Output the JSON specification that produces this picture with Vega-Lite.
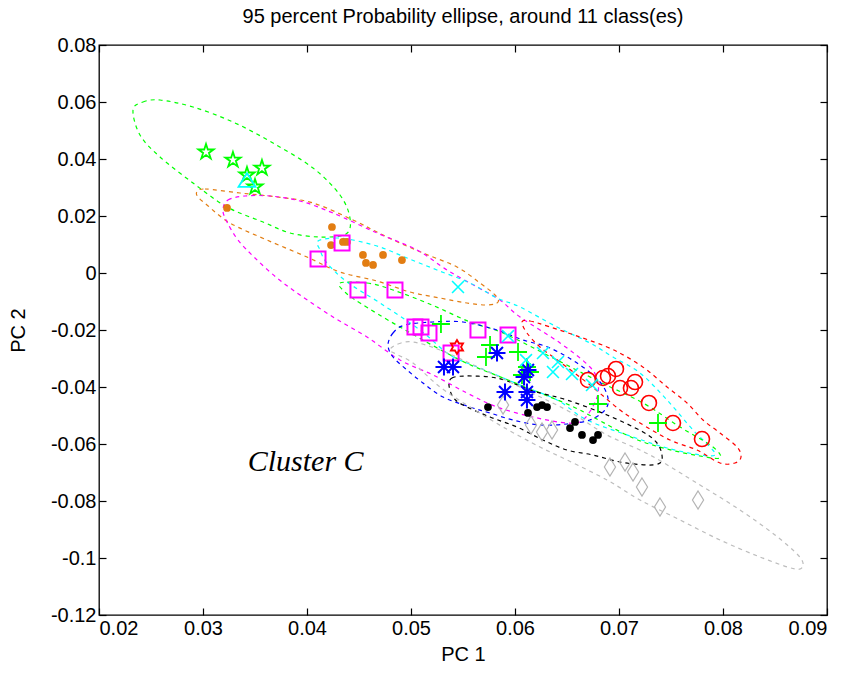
{
  "$schema": "https://vega.github.io/schema/vega-lite/v6.json",
  "width": 728,
  "height": 570,
  "autosize": {"type": "none"},
  "padding": {"left": 99, "top": 45, "right": 23, "bottom": 61},
  "title": {"text": "95 percent Probability ellipse, around 11 class(es)", "font": "Liberation Sans", "fontSize": 20, "fontWeight": "normal", "color": "black", "offset": 8},
  "datasets": {
    "ell": [
      {"e":"g1","i":0,"x":0.02327,"y":0.05719},{"e":"g1","i":1,"x":0.02423,"y":0.06},{"e":"g1","i":2,"x":0.02587,"y":0.0607},{"e":"g1","i":3,"x":0.02904,"y":0.05825},{"e":"g1","i":4,"x":0.03288,"y":0.05298},{"e":"g1","i":5,"x":0.03673,"y":0.04561},{"e":"g1","i":6,"x":0.04058,"y":0.03684},{"e":"g1","i":7,"x":0.04317,"y":0.02737},{"e":"g1","i":8,"x":0.04413,"y":0.0193},{"e":"g1","i":9,"x":0.04375,"y":0.01368},{"e":"g1","i":10,"x":0.04125,"y":0.01263},{"e":"g1","i":11,"x":0.03837,"y":0.01404},{"e":"g1","i":12,"x":0.03577,"y":0.01789},{"e":"g1","i":13,"x":0.03231,"y":0.02316},{"e":"g1","i":14,"x":0.02904,"y":0.03158},{"e":"g1","i":15,"x":0.02587,"y":0.0407},{"e":"g1","i":16,"x":0.02394,"y":0.04842},
      {"e":"or","i":0,"x":0.02942,"y":0.02842},{"e":"or","i":1,"x":0.03019,"y":0.02947},{"e":"or","i":2,"x":0.03356,"y":0.02807},{"e":"or","i":3,"x":0.03712,"y":0.02667},{"e":"or","i":4,"x":0.04058,"y":0.02456},{"e":"or","i":5,"x":0.04442,"y":0.0186},{"e":"or","i":6,"x":0.04769,"y":0.01263},{"e":"or","i":7,"x":0.05115,"y":0.00702},{"e":"or","i":8,"x":0.05442,"y":0.00211},{"e":"or","i":9,"x":0.05663,"y":-0.00351},{"e":"or","i":10,"x":0.05808,"y":-0.00772},{"e":"or","i":11,"x":0.05837,"y":-0.01018},{"e":"or","i":12,"x":0.0574,"y":-0.01123},{"e":"or","i":13,"x":0.05538,"y":-0.01053},{"e":"or","i":14,"x":0.05279,"y":-0.00877},{"e":"or","i":15,"x":0.0499,"y":-0.00667},{"e":"or","i":16,"x":0.04673,"y":-0.00281},{"e":"or","i":17,"x":0.04317,"y":0.00035},{"e":"or","i":18,"x":0.04,"y":0.00561},{"e":"or","i":19,"x":0.03615,"y":0.01158},{"e":"or","i":20,"x":0.0326,"y":0.01754},{"e":"or","i":21,"x":0.03038,"y":0.02386},{"e":"or","i":22,"x":0.02952,"y":0.02667},
      {"e":"mg","i":0,"x":0.03192,"y":0.02211},{"e":"mg","i":1,"x":0.0324,"y":0.02561},{"e":"mg","i":2,"x":0.03404,"y":0.02702},{"e":"mg","i":3,"x":0.03644,"y":0.02702},{"e":"mg","i":4,"x":0.03933,"y":0.02526},{"e":"mg","i":5,"x":0.0425,"y":0.02105},{"e":"mg","i":6,"x":0.04673,"y":0.01404},{"e":"mg","i":7,"x":0.05058,"y":0.00807},{"e":"mg","i":8,"x":0.05346,"y":0.00105},{"e":"mg","i":9,"x":0.05635,"y":-0.00491},{"e":"mg","i":10,"x":0.05856,"y":-0.00947},{"e":"mg","i":11,"x":0.06048,"y":-0.01544},{"e":"mg","i":12,"x":0.06433,"y":-0.02456},{"e":"mg","i":13,"x":0.06721,"y":-0.03298},{"e":"mg","i":14,"x":0.06798,"y":-0.0386},{"e":"mg","i":15,"x":0.06779,"y":-0.04456},{"e":"mg","i":16,"x":0.06654,"y":-0.05158},{"e":"mg","i":17,"x":0.065,"y":-0.05263},{"e":"mg","i":18,"x":0.06173,"y":-0.05053},{"e":"mg","i":19,"x":0.05827,"y":-0.04702},{"e":"mg","i":20,"x":0.05538,"y":-0.04211},{"e":"mg","i":21,"x":0.05212,"y":-0.03579},{"e":"mg","i":22,"x":0.04894,"y":-0.03053},{"e":"mg","i":23,"x":0.04577,"y":-0.02246},{"e":"mg","i":24,"x":0.0425,"y":-0.01544},{"e":"mg","i":25,"x":0.03933,"y":-0.00772},{"e":"mg","i":26,"x":0.03712,"y":-0.00175},{"e":"mg","i":27,"x":0.035,"y":0.00526},{"e":"mg","i":28,"x":0.03337,"y":0.01158},{"e":"mg","i":29,"x":0.03231,"y":0.01789},
      {"e":"cy","i":0,"x":0.04106,"y":0.01123},{"e":"cy","i":1,"x":0.04269,"y":0.01228},{"e":"cy","i":2,"x":0.04442,"y":0.01158},{"e":"cy","i":3,"x":0.04702,"y":0.00912},{"e":"cy","i":4,"x":0.04962,"y":0.00526},{"e":"cy","i":5,"x":0.0525,"y":0.00105},{"e":"cy","i":6,"x":0.05567,"y":-0.00351},{"e":"cy","i":7,"x":0.05827,"y":-0.00877},{"e":"cy","i":8,"x":0.06048,"y":-0.01193},{"e":"cy","i":9,"x":0.06404,"y":-0.01895},{"e":"cy","i":10,"x":0.06721,"y":-0.02456},{"e":"cy","i":11,"x":0.06942,"y":-0.02947},{"e":"cy","i":12,"x":0.07202,"y":-0.03509},{"e":"cy","i":13,"x":0.07462,"y":-0.04456},{"e":"cy","i":14,"x":0.07712,"y":-0.05509},{"e":"cy","i":15,"x":0.07875,"y":-0.06105},{"e":"cy","i":16,"x":0.07923,"y":-0.06386},{"e":"cy","i":17,"x":0.07779,"y":-0.06386},{"e":"cy","i":18,"x":0.07462,"y":-0.0614},{"e":"cy","i":19,"x":0.07135,"y":-0.05754},{"e":"cy","i":20,"x":0.06692,"y":-0.05158},{"e":"cy","i":21,"x":0.06404,"y":-0.04456},{"e":"cy","i":22,"x":0.06048,"y":-0.0393},{"e":"cy","i":23,"x":0.05663,"y":-0.03333},{"e":"cy","i":24,"x":0.05375,"y":-0.02877},{"e":"cy","i":25,"x":0.05087,"y":-0.02},{"e":"cy","i":26,"x":0.04702,"y":-0.01053},{"e":"cy","i":27,"x":0.04385,"y":-0.00316},{"e":"cy","i":28,"x":0.04192,"y":0.00351},{"e":"cy","i":29,"x":0.04125,"y":0.00807},
      {"e":"g2","i":0,"x":0.04317,"y":-0.00351},{"e":"g2","i":1,"x":0.04577,"y":-0.00351},{"e":"g2","i":2,"x":0.04827,"y":-0.00596},{"e":"g2","i":3,"x":0.05202,"y":-0.01123},{"e":"g2","i":4,"x":0.05567,"y":-0.01719},{"e":"g2","i":5,"x":0.05885,"y":-0.02105},{"e":"g2","i":6,"x":0.06365,"y":-0.02982},{"e":"g2","i":7,"x":0.06817,"y":-0.03825},{"e":"g2","i":8,"x":0.07231,"y":-0.04561},{"e":"g2","i":9,"x":0.07587,"y":-0.05404},{"e":"g2","i":10,"x":0.07904,"y":-0.06105},{"e":"g2","i":11,"x":0.07971,"y":-0.06491},{"e":"g2","i":12,"x":0.07779,"y":-0.06421},{"e":"g2","i":13,"x":0.07462,"y":-0.06175},{"e":"g2","i":14,"x":0.07135,"y":-0.05789},{"e":"g2","i":15,"x":0.0675,"y":-0.05053},{"e":"g2","i":16,"x":0.065,"y":-0.04596},{"e":"g2","i":17,"x":0.05885,"y":-0.03684},{"e":"g2","i":18,"x":0.05471,"y":-0.03053},{"e":"g2","i":19,"x":0.04894,"y":-0.01895},{"e":"g2","i":20,"x":0.0451,"y":-0.01053},{"e":"g2","i":21,"x":0.04365,"y":-0.00667},
      {"e":"bl","i":0,"x":0.04779,"y":-0.02526},{"e":"bl","i":1,"x":0.04827,"y":-0.02105},{"e":"bl","i":2,"x":0.04942,"y":-0.01825},{"e":"bl","i":3,"x":0.05212,"y":-0.01719},{"e":"bl","i":4,"x":0.055,"y":-0.01719},{"e":"bl","i":5,"x":0.05827,"y":-0.02},{"e":"bl","i":6,"x":0.06077,"y":-0.02351},{"e":"bl","i":7,"x":0.06337,"y":-0.02632},{"e":"bl","i":8,"x":0.06625,"y":-0.03228},{"e":"bl","i":9,"x":0.06817,"y":-0.03825},{"e":"bl","i":10,"x":0.06894,"y":-0.04386},{"e":"bl","i":11,"x":0.06865,"y":-0.04807},{"e":"bl","i":12,"x":0.06721,"y":-0.05158},{"e":"bl","i":13,"x":0.065,"y":-0.05298},{"e":"bl","i":14,"x":0.0624,"y":-0.05333},{"e":"bl","i":15,"x":0.05981,"y":-0.05158},{"e":"bl","i":16,"x":0.0576,"y":-0.04912},{"e":"bl","i":17,"x":0.05567,"y":-0.04702},{"e":"bl","i":18,"x":0.05308,"y":-0.04351},{"e":"bl","i":19,"x":0.05115,"y":-0.0386},{"e":"bl","i":20,"x":0.04962,"y":-0.03404},{"e":"bl","i":21,"x":0.04827,"y":-0.02947},
      {"e":"rd","i":0,"x":0.06067,"y":-0.01719},{"e":"rd","i":1,"x":0.06144,"y":-0.01684},{"e":"rd","i":2,"x":0.06337,"y":-0.01895},{"e":"rd","i":3,"x":0.06625,"y":-0.02246},{"e":"rd","i":4,"x":0.06885,"y":-0.02596},{"e":"rd","i":5,"x":0.07077,"y":-0.02947},{"e":"rd","i":6,"x":0.07269,"y":-0.03404},{"e":"rd","i":7,"x":0.07462,"y":-0.04},{"e":"rd","i":8,"x":0.07654,"y":-0.04561},{"e":"rd","i":9,"x":0.07808,"y":-0.05158},{"e":"rd","i":10,"x":0.07971,"y":-0.05614},{"e":"rd","i":11,"x":0.08135,"y":-0.06105},{"e":"rd","i":12,"x":0.08173,"y":-0.06456},{"e":"rd","i":13,"x":0.08115,"y":-0.06667},{"e":"rd","i":14,"x":0.07971,"y":-0.06667},{"e":"rd","i":15,"x":0.0775,"y":-0.06211},{"e":"rd","i":16,"x":0.0749,"y":-0.0586},{"e":"rd","i":17,"x":0.07202,"y":-0.05263},{"e":"rd","i":18,"x":0.0701,"y":-0.04807},{"e":"rd","i":19,"x":0.06721,"y":-0.0393},{"e":"rd","i":20,"x":0.06433,"y":-0.03123},{"e":"rd","i":21,"x":0.0624,"y":-0.02596},{"e":"rd","i":22,"x":0.06115,"y":-0.02105},
      {"e":"bk","i":0,"x":0.05365,"y":-0.0393},{"e":"bk","i":1,"x":0.05394,"y":-0.03684},{"e":"bk","i":2,"x":0.05519,"y":-0.03614},{"e":"bk","i":3,"x":0.0576,"y":-0.03649},{"e":"bk","i":4,"x":0.05923,"y":-0.03789},{"e":"bk","i":5,"x":0.06173,"y":-0.0414},{"e":"bk","i":6,"x":0.065,"y":-0.04456},{"e":"bk","i":7,"x":0.06885,"y":-0.04982},{"e":"bk","i":8,"x":0.07231,"y":-0.05579},{"e":"bk","i":9,"x":0.07365,"y":-0.05965},{"e":"bk","i":10,"x":0.07413,"y":-0.06386},{"e":"bk","i":11,"x":0.07394,"y":-0.06667},{"e":"bk","i":12,"x":0.07269,"y":-0.06737},{"e":"bk","i":13,"x":0.0701,"y":-0.06632},{"e":"bk","i":14,"x":0.0675,"y":-0.06386},{"e":"bk","i":15,"x":0.065,"y":-0.06211},{"e":"bk","i":16,"x":0.06269,"y":-0.0586},{"e":"bk","i":17,"x":0.06019,"y":-0.05404},{"e":"bk","i":18,"x":0.0576,"y":-0.05053},{"e":"bk","i":19,"x":0.055,"y":-0.04632},{"e":"bk","i":20,"x":0.05404,"y":-0.04351},
      {"e":"gy","i":0,"x":0.04798,"y":-0.02702},{"e":"gy","i":1,"x":0.04875,"y":-0.02491},{"e":"gy","i":2,"x":0.05019,"y":-0.02421},{"e":"gy","i":3,"x":0.05279,"y":-0.02702},{"e":"gy","i":4,"x":0.05663,"y":-0.03333},{"e":"gy","i":5,"x":0.06144,"y":-0.04175},{"e":"gy","i":6,"x":0.06529,"y":-0.04877},{"e":"gy","i":7,"x":0.06885,"y":-0.05684},{"e":"gy","i":8,"x":0.07298,"y":-0.06386},{"e":"gy","i":9,"x":0.07779,"y":-0.07439},{"e":"gy","i":10,"x":0.08163,"y":-0.08316},{"e":"gy","i":11,"x":0.085,"y":-0.09193},{"e":"gy","i":12,"x":0.08721,"y":-0.09895},{"e":"gy","i":13,"x":0.08769,"y":-0.10246},{"e":"gy","i":14,"x":0.08692,"y":-0.10386},{"e":"gy","i":15,"x":0.08356,"y":-0.09965},{"e":"gy","i":16,"x":0.07971,"y":-0.09368},{"e":"gy","i":17,"x":0.07587,"y":-0.08667},{"e":"gy","i":18,"x":0.07202,"y":-0.07965},{"e":"gy","i":19,"x":0.06885,"y":-0.07263},{"e":"gy","i":20,"x":0.065,"y":-0.06561},{"e":"gy","i":21,"x":0.0624,"y":-0.06105},{"e":"gy","i":22,"x":0.05885,"y":-0.05404},{"e":"gy","i":23,"x":0.05567,"y":-0.04702},{"e":"gy","i":24,"x":0.05279,"y":-0.04},{"e":"gy","i":25,"x":0.05019,"y":-0.03158},{"e":"gy","i":26,"x":0.04875,"y":-0.02877}
    ],
    "pts": [
      {"c":"star","x":0.03029,"y":0.04246},{"c":"star","x":0.03288,"y":0.03965},{"c":"star","x":0.03423,"y":0.03439},{"c":"star","x":0.03567,"y":0.03684},{"c":"star","x":0.035,"y":0.03018},
      {"c":"tri","x":0.03423,"y":0.03263},
      {"c":"odot","x":0.03231,"y":0.02281},{"c":"odot","x":0.0424,"y":0.01614},{"c":"odot","x":0.04231,"y":0.00982},{"c":"odot","x":0.04346,"y":0.01088},{"c":"odot","x":0.04385,"y":0.01088},{"c":"odot","x":0.04538,"y":0.00632},{"c":"odot","x":0.04567,"y":0.00351},{"c":"odot","x":0.04635,"y":0.00281},{"c":"odot","x":0.04731,"y":0.00632},{"c":"odot","x":0.04913,"y":0.00456},
      {"c":"sq","x":0.04106,"y":0.00491},{"c":"sq","x":0.04337,"y":0.01053},{"c":"sq","x":0.0449,"y":-0.00596},{"c":"sq","x":0.04846,"y":-0.00596},{"c":"sq","x":0.05038,"y":-0.01895},{"c":"sq","x":0.05096,"y":-0.01895},{"c":"sq","x":0.05173,"y":-0.02105},{"c":"sq","x":0.05385,"y":-0.02807},{"c":"sq","x":0.05644,"y":-0.02},{"c":"sq","x":0.05933,"y":-0.02175},
      {"c":"circ","x":0.06702,"y":-0.03754},{"c":"circ","x":0.06846,"y":-0.03684},{"c":"circ","x":0.06894,"y":-0.03614},{"c":"circ","x":0.06971,"y":-0.03368},{"c":"circ","x":0.0701,"y":-0.04035},{"c":"circ","x":0.07115,"y":-0.04035},{"c":"circ","x":0.07154,"y":-0.03825},{"c":"circ","x":0.07288,"y":-0.04561},{"c":"circ","x":0.07519,"y":-0.05263},{"c":"circ","x":0.07798,"y":-0.05825},
      {"c":"plus","x":0.05288,"y":-0.01789},{"c":"plus","x":0.0576,"y":-0.02526},{"c":"plus","x":0.05721,"y":-0.02947},{"c":"plus","x":0.06029,"y":-0.02772},{"c":"plus","x":0.06115,"y":-0.03298},{"c":"plus","x":0.06067,"y":-0.03579},{"c":"plus","x":0.06144,"y":-0.03474},{"c":"plus","x":0.06798,"y":-0.04596},{"c":"plus","x":0.07375,"y":-0.05263},
      {"c":"ast","x":0.05317,"y":-0.03298},{"c":"ast","x":0.05404,"y":-0.03298},{"c":"ast","x":0.05827,"y":-0.02807},{"c":"ast","x":0.05904,"y":-0.04175},{"c":"ast","x":0.06087,"y":-0.03649},{"c":"ast","x":0.06125,"y":-0.03404},{"c":"ast","x":0.06115,"y":-0.04175},{"c":"ast","x":0.06115,"y":-0.04456},
      {"c":"kdot","x":0.0574,"y":-0.04702},{"c":"kdot","x":0.06125,"y":-0.04912},{"c":"kdot","x":0.06212,"y":-0.04702},{"c":"kdot","x":0.0626,"y":-0.04632},{"c":"kdot","x":0.06308,"y":-0.04702},{"c":"kdot","x":0.06577,"y":-0.05228},{"c":"kdot","x":0.06529,"y":-0.05439},{"c":"kdot","x":0.06644,"y":-0.05684},{"c":"kdot","x":0.0675,"y":-0.0586},{"c":"kdot","x":0.06798,"y":-0.05684},
      {"c":"dia","x":0.05885,"y":-0.04632},{"c":"dia","x":0.06154,"y":-0.05333},{"c":"dia","x":0.0626,"y":-0.05579},{"c":"dia","x":0.06356,"y":-0.05509},{"c":"dia","x":0.06913,"y":-0.06807},{"c":"dia","x":0.07058,"y":-0.06632},{"c":"dia","x":0.07135,"y":-0.06982},{"c":"dia","x":0.07221,"y":-0.07509},{"c":"dia","x":0.07394,"y":-0.08211},{"c":"dia","x":0.0776,"y":-0.07965},
      {"c":"hex","x":0.05442,"y":-0.02596},
      {"c":"xx","x":0.05452,"y":-0.00491},{"c":"xx","x":0.05933,"y":-0.02211},{"c":"xx","x":0.06106,"y":-0.03053},{"c":"xx","x":0.06269,"y":-0.02807},{"c":"xx","x":0.06413,"y":-0.03123},{"c":"xx","x":0.06365,"y":-0.03474},{"c":"xx","x":0.06548,"y":-0.03544},{"c":"xx","x":0.0674,"y":-0.0393}
    ]
  },
  "encoding": {
    "x": {"field": "x", "type": "quantitative", "scale": {"domain": [0.02, 0.09], "nice": false, "zero": false}, "axis": null},
    "y": {"field": "y", "type": "quantitative", "scale": {"domain": [-0.12, 0.08], "nice": false, "zero": false}, "axis": null}
  },
  "layer": [
    {
      "data": {"name": "ell"},
      "mark": {"type": "line", "interpolate": "cardinal-closed", "strokeDash": [4, 4], "strokeWidth": 1.2, "opacity": 1},
      "encoding": {
        "x": {"field": "x", "type": "quantitative", "axis": {"orient": "bottom", "values": [0.02, 0.03, 0.04, 0.05, 0.06, 0.07, 0.08, 0.09], "labelExpr": "toString(round(datum.value*100)/100)", "title": "PC 1", "tickSize": -7, "labelPadding": 10, "titlePadding": 6}},
        "y": {"field": "y", "type": "quantitative", "axis": {"orient": "left", "values": [-0.12, -0.1, -0.08, -0.06, -0.04, -0.02, 0, 0.02, 0.04, 0.06, 0.08], "labelExpr": "toString(round(datum.value*100)/100)", "title": "PC 2", "tickSize": -7, "labelPadding": 10, "titlePadding": 22}},
        "detail": {"field": "e"},
        "order": {"field": "i", "type": "quantitative"},
        "color": {"field": "e", "type": "nominal", "legend": null, "scale": {"domain": ["g1", "or", "mg", "cy", "g2", "bl", "rd", "bk", "gy"], "range": ["#00ff00", "#e27d12", "#ff00ff", "#00ffff", "#00ff00", "#0000ff", "#ff0000", "#000000", "#bdbdbd"]}}
      }
    },
    {
      "data": {"name": "pts"},
      "transform": [{"filter": "datum.c == 'dia'"}],
      "mark": {"type": "point", "filled": false, "shape": "M0,-1L0.62,0L0,1L-0.62,0Z", "size": 324, "color": "#b4b4b4", "strokeWidth": 1.2, "opacity": 1},
      "encoding": {
        "x": {"field": "x", "type": "quantitative", "axis": {"orient": "top", "values": [0.02, 0.03, 0.04, 0.05, 0.06, 0.07, 0.08, 0.09], "labels": false, "title": null, "tickSize": -7}},
        "y": {"field": "y", "type": "quantitative", "axis": {"orient": "right", "values": [-0.12, -0.1, -0.08, -0.06, -0.04, -0.02, 0, 0.02, 0.04, 0.06, 0.08], "labels": false, "title": null, "tickSize": -7}}
      }
    },
    {
      "data": {"name": "pts"},
      "transform": [{"filter": "datum.c == 'star'"}],
      "mark": {"type": "point", "filled": false, "shape": "M0,-1L0.2245,-0.309L0.951,-0.309L0.363,0.118L0.588,0.809L0,0.382L-0.588,0.809L-0.363,0.118L-0.951,-0.309L-0.2245,-0.309Z", "size": 256, "color": "#00ff00", "strokeWidth": 1.8, "opacity": 1}
    },
    {
      "data": {"name": "pts"},
      "transform": [{"filter": "datum.c == 'tri'"}],
      "mark": {"type": "point", "filled": false, "shape": "M0,-0.8L1,0.8L-1,0.8Z", "size": 289, "color": "#00ffff", "strokeWidth": 1.8, "opacity": 1}
    },
    {
      "data": {"name": "pts"},
      "transform": [{"filter": "datum.c == 'odot'"}],
      "mark": {"type": "point", "filled": true, "shape": "circle", "size": 60, "color": "#e27d12", "opacity": 1}
    },
    {
      "data": {"name": "pts"},
      "transform": [{"filter": "datum.c == 'kdot'"}],
      "mark": {"type": "point", "filled": true, "shape": "circle", "size": 60, "color": "#000000", "opacity": 1}
    },
    {
      "data": {"name": "pts"},
      "transform": [{"filter": "datum.c == 'sq'"}],
      "mark": {"type": "point", "filled": false, "shape": "square", "size": 225, "color": "#ff00ff", "strokeWidth": 2, "opacity": 1}
    },
    {
      "data": {"name": "pts"},
      "transform": [{"filter": "datum.c == 'circ'"}],
      "mark": {"type": "point", "filled": false, "shape": "circle", "size": 225, "color": "#ff0000", "strokeWidth": 1.6, "opacity": 1}
    },
    {
      "data": {"name": "pts"},
      "transform": [{"filter": "datum.c == 'plus'"}],
      "mark": {"type": "point", "filled": false, "shape": "M-1,0L1,0M0,-1L0,1", "size": 324, "color": "#00ff00", "strokeWidth": 1.8, "opacity": 1}
    },
    {
      "data": {"name": "pts"},
      "transform": [{"filter": "datum.c == 'ast'"}],
      "mark": {"type": "point", "filled": false, "shape": "M-1,0L1,0M0,-1L0,1M-0.7,-0.7L0.7,0.7M-0.7,0.7L0.7,-0.7", "size": 289, "color": "#0000ff", "strokeWidth": 2, "opacity": 1}
    },
    {
      "data": {"name": "pts"},
      "transform": [{"filter": "datum.c == 'xx'"}],
      "mark": {"type": "point", "filled": false, "shape": "M-0.7,-0.7L0.7,0.7M-0.7,0.7L0.7,-0.7", "size": 289, "color": "#00ffff", "strokeWidth": 1.6, "opacity": 1}
    },
    {
      "data": {"name": "pts"},
      "transform": [{"filter": "datum.c == 'hex'"}],
      "mark": {"type": "point", "filled": false, "shape": "M0,-1L0.289,-0.5L0.866,-0.5L0.577,0L0.866,0.5L0.289,0.5L0,1L-0.289,0.5L-0.866,0.5L-0.577,0L-0.866,-0.5L-0.289,-0.5Z", "size": 196, "color": "#ff0000", "strokeWidth": 1.8, "opacity": 1}
    },
    {
      "data": {"values": [{"label": "Cluster C", "x": 0.0343, "y": -0.0663}]},
      "mark": {"type": "text", "font": "Liberation Serif", "fontStyle": "italic", "fontSize": 30, "align": "left", "baseline": "middle", "color": "black"},
      "encoding": {"text": {"field": "label"}}
    }
  ],
  "resolve": {"axis": {"x": "independent", "y": "independent"}},
  "config": {
    "view": {"stroke": "black", "strokeWidth": 1.3},
    "axis": {"grid": false, "domain": false, "tickColor": "black", "tickWidth": 1.2, "labelColor": "black", "labelFont": "Liberation Sans", "labelFontSize": 20, "titleFont": "Liberation Sans", "titleFontSize": 20, "titleFontWeight": "normal", "titleColor": "black"}
  }
}
